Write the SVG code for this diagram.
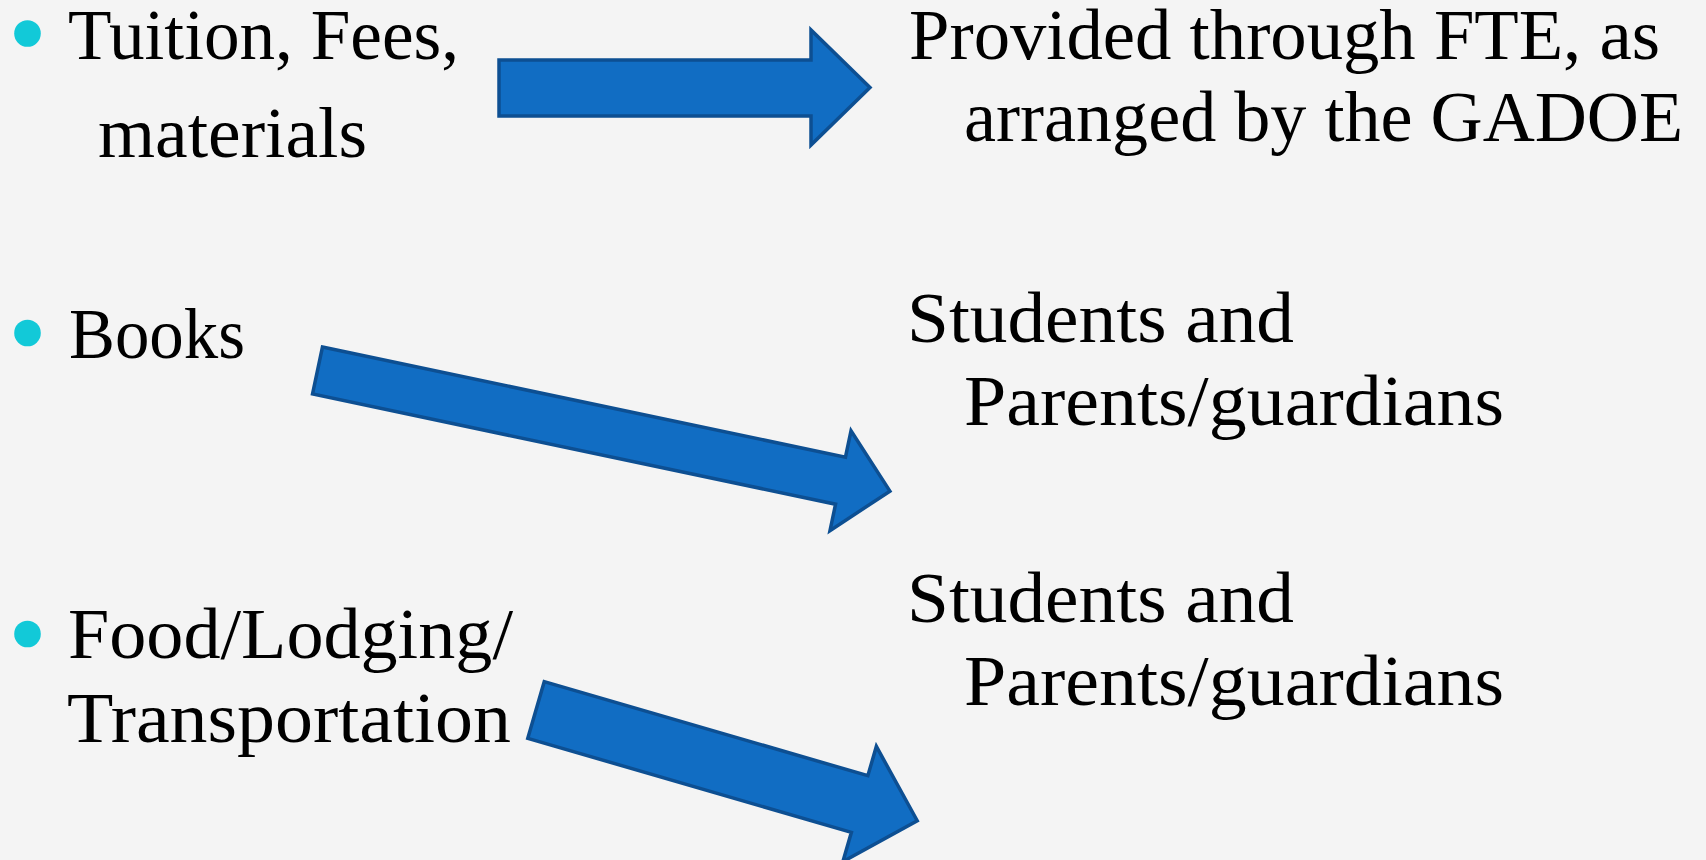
<svg xmlns="http://www.w3.org/2000/svg" width="1706" height="860" viewBox="0 0 1706 860">
  <style>
    .t { font-family: "Liberation Serif", "Times New Roman", serif; font-size: 72px; fill: #000; }
    .bullet { fill: #12c9d8; }
    .arrow { fill: #116dc3; stroke: #0d4f92; stroke-width: 3.5; stroke-linejoin: miter; }
  </style>
  <rect width="1706" height="860" fill="#f4f4f4"/>

  <g id="node-tuition">
    <circle class="bullet" cx="27.5" cy="33.5" r="13.3"/>
    <text class="t" x="68" y="59" textLength="391" lengthAdjust="spacingAndGlyphs">Tuition, Fees,</text>
    <text class="t" x="98" y="157" textLength="269" lengthAdjust="spacingAndGlyphs">materials</text>
  </g>
  <g id="node-books">
    <circle class="bullet" cx="27.5" cy="333" r="13.3"/>
    <text class="t" x="69" y="358" textLength="176" lengthAdjust="spacingAndGlyphs">Books</text>
  </g>
  <g id="node-food">
    <circle class="bullet" cx="27.5" cy="634" r="13.3"/>
    <text class="t" x="68" y="658" textLength="445" lengthAdjust="spacingAndGlyphs">Food/Lodging/</text>
    <text class="t" x="67" y="742" textLength="444" lengthAdjust="spacingAndGlyphs">Transportation</text>
  </g>
  <g id="node-fte">
    <text class="t" x="909" y="59" textLength="751" lengthAdjust="spacingAndGlyphs">Provided through FTE, as</text>
    <text class="t" x="964" y="141" textLength="719" lengthAdjust="spacingAndGlyphs">arranged by the GADOE</text>
  </g>
  <g id="node-parents1">
    <text class="t" x="907" y="342" textLength="387" lengthAdjust="spacingAndGlyphs">Students and</text>
    <text class="t" x="964" y="425" textLength="540" lengthAdjust="spacingAndGlyphs">Parents/guardians</text>
  </g>
  <g id="node-parents2">
    <text class="t" x="907" y="622" textLength="387" lengthAdjust="spacingAndGlyphs">Students and</text>
    <text class="t" x="964" y="705" textLength="540" lengthAdjust="spacingAndGlyphs">Parents/guardians</text>
  </g>

  <g id="connectors">
    <polygon class="arrow" points="499,60 811,60 811,30 870,87.5 811,145 811,116 499,116"/>
    <polygon class="arrow" transform="translate(317.5,370.5) rotate(11.9)" points="0,-24 534.5,-24 534.5,-51 585,0 534.5,51 534.5,24 0,24"/>
    <polygon class="arrow" transform="translate(536,710) rotate(16.2)" points="0,-29.5 337,-29.5 337,-60 397,0 337,60 337,29.5 0,29.5"/>
  </g>
</svg>
